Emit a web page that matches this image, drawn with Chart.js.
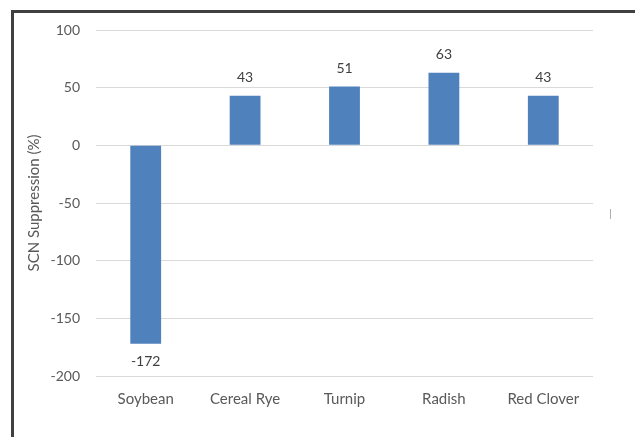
<!DOCTYPE html>
<html>
<head>
<meta charset="utf-8">
<script src="https://cdn.jsdelivr.net/npm/chart.js@4"></script>
<style>
	html, body { margin: 0; padding: 0; background: #fff; overflow: hidden; }
	#wrap { position: relative; width: 635px; height: 437px; }
	#frame {
		position: absolute; left: 11px; top: 10px; width: 700px; height: 500px;
		border-left: 3px solid #404040; border-top: 3px solid #404040;
	}
	#mark { position: absolute; left: 610px; top: 209px; width: 1px; height: 10px; background: #b0b0b0; }
	canvas { position: absolute; left: 0; top: 0; }
</style>
</head>
<body>
<div id="wrap">
	<div id="frame"></div>
	<div id="mark"></div>
	<canvas id="scn-chart" width="635" height="437"></canvas>
</div>
<script>
const categories = ['Soybean', 'Cereal Rye', 'Turnip', 'Radish', 'Red Clover'];
const suppression = [-172, 43, 51, 63, 43];
const yTicks = [100, 50, 0, -50, -100, -150, -200];

const fontFamily = 'Lato, "Open Sans", sans-serif';

const barLabels = {
	id: 'barLabels',
	afterDatasetsDraw(chart) {
		const ctx = chart.ctx;
		const meta = chart.getDatasetMeta(0);
		ctx.save();
		ctx.font = '14px ' + fontFamily;
		ctx.fillStyle = '#404040';
		ctx.textAlign = 'center';
		meta.data.forEach((bar, i) => {
			const v = suppression[i];
			if (v >= 0) {
				ctx.textBaseline = 'bottom';
				ctx.fillText(String(v), bar.x, bar.y - 11);
			} else {
				ctx.textBaseline = 'top';
				ctx.fillText(String(v), bar.x, bar.y + 11);
			}
		});
		ctx.restore();
	},
};

document.addEventListener('DOMContentLoaded', () => {
	const ctx = document.getElementById('scn-chart');

	new Chart(ctx, {
		type: 'bar',
		data: {
			labels: categories,
			datasets: [
				{
					data: suppression,
					backgroundColor: '#4F81BD',
					borderWidth: 0,
					barPercentage: 0.31,
					categoryPercentage: 1,
				},
			],
		},
		options: {
			responsive: false,
			animation: false,
			layout: {
				padding: { left: 25, top: 30, right: 42, bottom: 21 },
			},
			plugins: {
				legend: { display: false },
				tooltip: { enabled: false },
			},
			scales: {
				y: {
					min: -200,
					max: 100,
					afterBuildTicks: (scale) => {
						scale.ticks = yTicks.map((v) => ({ value: v }));
					},
					afterFit: (scale) => {
						scale.width = 71;
					},
					grid: {
						color: '#d9d9d9',
						drawTicks: false,
					},
					border: { display: false },
					ticks: {
						color: '#595959',
						padding: 16,
						font: { family: fontFamily, size: 14 },
					},
					title: {
						display: true,
						text: 'SCN Suppression (%)',
						color: '#595959',
						padding: { top: 0, bottom: 0 },
						font: { family: fontFamily, size: 15 },
					},
				},
				x: {
					afterFit: (scale) => {
						scale.height = 40;
					},
					grid: { display: false, drawTicks: false },
					border: { display: false },
					ticks: {
						color: '#595959',
						padding: 14,
						font: { family: fontFamily, size: 15 },
					},
				},
			},
		},
		plugins: [barLabels],
	});
});
</script>
</body>
</html>
